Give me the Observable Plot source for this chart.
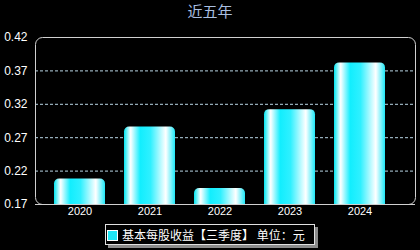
<!DOCTYPE html>
<html><head><meta charset="utf-8">
<script src="https://cdn.jsdelivr.net/npm/d3@7"></script>
<script src="https://cdn.jsdelivr.net/npm/@observablehq/plot@0.6"></script>
<style>
html,body{margin:0;padding:0;background:#000;width:420px;height:250px;overflow:hidden;}
#title{height:30px;line-height:24px;text-align:center;color:#a9bfe0;font:15px "Noto Sans CJK SC",sans-serif;}
#legend{position:absolute;left:105px;top:224px;width:208px;height:19px;border:1px solid #e0e0e0;box-shadow:3px 3px 0 #8a8a8a;background:#000;color:#fff;font:12px "Noto Sans CJK SC",sans-serif;line-height:19px;white-space:nowrap;overflow:hidden;}
#legend .sw{display:inline-block;width:9px;height:9px;background:#1ee6f5;border:1px solid #fff;vertical-align:middle;margin:0 4px 2px 1px;}
</style></head>
<body>
<div id="title">近五年</div>
<div id="chart"></div>
<div id="legend"><span class="sw"></span>基本每股收益【三季度】 单位：元</div>
<script>
const years = ["2020","2021","2022","2023","2024"];
const values = [0.208, 0.286, 0.194, 0.312, 0.382];
const yTicks = [0.17, 0.22, 0.27, 0.32, 0.37, 0.42];
const gridTicks = [0.22, 0.27, 0.32, 0.37];
const yMin = 0.17, yMax = 0.42;

const data = years.map((y, i) => ({year: y, value: values[i]}));

const chart = Plot.plot({
  width: 420,
  height: 190,
  marginTop: 7,
  marginBottom: 16,
  marginLeft: 35,
  marginRight: 5,
  style: {background: "black", color: "white", fontFamily: "'Liberation Sans', Arial, sans-serif", fontSize: "12px"},
  x: {type: "band", domain: years, range: [44.5, 394.5], paddingInner: 0.2714, paddingOuter: 0.1357, label: null, tickSize: 0, tickPadding: 3},
  y: {domain: [yMin, yMax], ticks: yTicks, tickFormat: d3.format(".2f"), label: null, tickSize: 0, tickPadding: 8},
  marks: [
    Plot.ruleY(gridTicks, {stroke: "#b8d4e4", strokeDasharray: "3,2", strokeWidth: 1}),
    Plot.barY(data, {x: "year", y1: () => yMin - 0.02, y2: "value", fill: "url(#barGrad)", rx: 5, clip: true}),
    Plot.frame({stroke: "#d0d0d0", rx: 7}),
    Plot.ruleY([yMin], {stroke: "#d0d0d0"})
  ]
});

const svg = d3.select(chart);
const defs = svg.insert("defs", ":first-child");
const g = defs.append("linearGradient").attr("id", "barGrad").attr("x1", "0").attr("x2", "1").attr("y1", "0").attr("y2", "0");
[["0%", "#00e4f0"], ["13%", "#ffffff"], ["32%", "#12eefe"], ["52%", "#2ff0ff"], ["82%", "#ffffff"], ["100%", "#1ee8f8"]]
  .forEach(([o, c]) => g.append("stop").attr("offset", o).attr("stop-color", c));

svg.selectAll("[aria-label='x-axis tick label'] text, [aria-label='x-axis tick label']").style("font-size", "11px");
document.getElementById("chart").appendChild(chart);
</script>
</body></html>
